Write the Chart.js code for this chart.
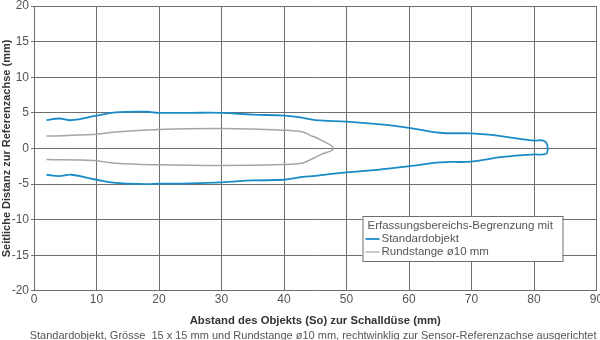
<!DOCTYPE html>
<html>
<head>
<meta charset="utf-8">
<script src="https://cdn.jsdelivr.net/npm/chart.js@4"></script>
<style>
  html, body { margin: 0; padding: 0; background: #fff; }
  #wrap { width: 600px; height: 340px; }
</style>
</head>
<body>
<div id="wrap"><canvas id="chart" width="600" height="340"></canvas></div>
<script>
// Standardobjekt contour: upper edge out to the tip, then back along the lower edge
const stdX = [2, 4, 6, 10, 13, 18, 20, 25, 30, 35, 40, 43, 45, 50, 55, 60, 65, 70, 75, 78, 80, 81.5, 82.1, 82.1, 81.5, 80, 75, 70, 65, 60, 55, 50, 45, 43, 40, 35, 30, 25, 20, 18, 13, 10, 6, 4, 2];
const stdY = [3.96, 4.2, 3.96, 4.6, 5.05, 5.15, 5.0, 5.0, 5.0, 4.75, 4.6, 4.3, 3.96, 3.75, 3.4, 2.9, 2.2, 2.1, 1.7, 1.3, 1.1, 1.1, 0.6, -0.6, -0.85, -0.85, -1.2, -1.84, -1.95, -2.5, -3.0, -3.35, -3.85, -4.0, -4.4, -4.5, -4.76, -4.9, -4.95, -5.0, -4.85, -4.4, -3.7, -3.9, -3.7];

// Rundstange contour
const rodX = [2, 9.5, 13, 20, 30, 40, 43, 44.2, 45.8, 47.9, 45.8, 44.2, 43, 40, 30, 20, 13, 9.5, 2];
const rodY = [1.74, 1.94, 2.3, 2.64, 2.78, 2.55, 2.3, 1.84, 1.23, 0, -0.9, -1.6, -2.05, -2.26, -2.4, -2.3, -2.08, -1.7, -1.56];

const seriesNames = ["Standardobjekt", "Rundstange ø10 mm"];
const legendTitle = "Erfassungsbereichs-Begrenzung mit";
const xTicks = [0, 10, 20, 30, 40, 50, 60, 70, 80, 90];
const yTicks = [-20, -15, -10, -5, 0, 5, 10, 15, 20];

const BLUE = "#1b8bc5";
const GREY = "#a5a5a5";
const GRID = "#6e6e6e";
const TEXT = "#555555";
const FONT = "'Liberation Sans', Arial, sans-serif";

function toPoints(xs, ys) {
  return xs.map((x, i) => ({ x: x, y: ys[i] }));
}

// boxed legend drawn inside the plot area, lower right
const boxLegend = {
  id: "boxLegend",
  afterDraw(chart) {
    const ctx = chart.ctx;
    const area = chart.chartArea;
    const left = area.right - 234;
    const top = area.top + 210;
    const w = 200, h = 45;
    ctx.save();
    ctx.fillStyle = "#fff";
    ctx.fillRect(left, top, w, h);
    ctx.strokeStyle = GRID;
    ctx.lineWidth = 1;
    ctx.strokeRect(left + 0.5, top + 0.5, w, h);
    ctx.font = "11.5px " + FONT;
    ctx.fillStyle = TEXT;
    ctx.textBaseline = "middle";
    ctx.fillText(legendTitle, left + 5, top + 10);
    const colors = [BLUE, GREY];
    seriesNames.forEach((name, i) => {
      const y = top + 23 + i * 13;
      ctx.strokeStyle = colors[i];
      ctx.lineWidth = i === 0 ? 1.8 : 1.2;
      ctx.beginPath();
      ctx.moveTo(left + 3, y);
      ctx.lineTo(left + 17, y);
      ctx.stroke();
      ctx.fillText(name, left + 19, y);
    });
    ctx.restore();
  }
};

new Chart(document.getElementById("chart"), {
  type: "scatter",
  data: {
    datasets: [
      {
        label: seriesNames[0],
        data: toPoints(stdX, stdY),
        showLine: true,
        borderColor: BLUE,
        borderWidth: 1.8,
        pointRadius: 0,
        tension: 0.4,
        fill: false
      },
      {
        label: seriesNames[1],
        data: toPoints(rodX, rodY),
        showLine: true,
        borderColor: GREY,
        borderWidth: 1.5,
        pointRadius: 0,
        tension: 0.4,
        fill: false
      }
    ]
  },
  options: {
    responsive: false,
    animation: false,
    layout: { padding: { left: 0, right: 3.5, top: 6, bottom: -3 } },
    plugins: {
      legend: { display: false },
      tooltip: { enabled: false },
      title: {
        display: true,
        position: "bottom",
        align: "end",
        text: "Standardobjekt, Grösse  15 x 15 mm und Rundstange ø10 mm, rechtwinklig zur Sensor-Referenzachse ausgerichtet",
        color: TEXT,
        font: { family: FONT, size: 11, weight: "normal" },
        padding: { top: 0, bottom: 0 }
      }
    },
    scales: {
      x: {
        type: "linear",
        min: 0,
        max: 90,
        afterBuildTicks: (s) => { s.ticks = xTicks.map(v => ({ value: v })); },
        afterFit: (s) => { s.paddingLeft = 0; s.paddingRight = 0; },
        ticks: { color: TEXT, font: { family: FONT, size: 12 }, padding: 2 },
        grid: { color: GRID, lineWidth: 1, drawTicks: false },
        border: { color: GRID },
        title: {
          display: true,
          text: "Abstand des Objekts (So) zur Schalldüse (mm)",
          color: "#333",
          font: { family: FONT, size: 11.3, weight: "bold" },
          padding: { top: 5, bottom: 2 }
        }
      },
      y: {
        min: -20,
        max: 20,
        afterBuildTicks: (s) => { s.ticks = yTicks.map(v => ({ value: v })); },
        afterFit: (s) => { s.width = 34; s.paddingTop = 0; s.paddingBottom = 0; },
        ticks: { color: TEXT, font: { family: FONT, size: 12 }, padding: 2 },
        grid: { color: GRID, lineWidth: 1, tickLength: 3 },
        border: { color: GRID },
        title: {
          display: true,
          text: "Seitliche Distanz zur Referenzachse (mm)",
          color: "#333",
          font: { family: FONT, size: 11, weight: "bold" },
          padding: { top: 0, bottom: 0 }
        }
      }
    }
  },
  plugins: [boxLegend]
});
</script>
</body>
</html>
